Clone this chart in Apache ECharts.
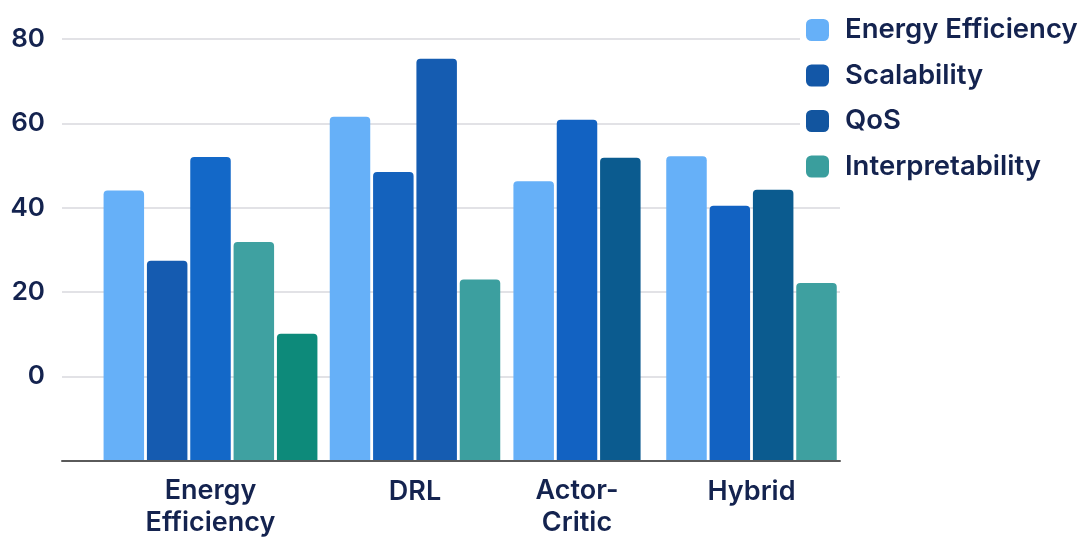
<!DOCTYPE html>
<html>
<head>
<meta charset="utf-8">
<script src="https://cdn.jsdelivr.net/npm/echarts@6/dist/echarts.min.js"></script>
<style>
  html, body { margin: 0; padding: 0; background: #fff; }
  #main { width: 1081px; height: 539px; }
</style>
</head>
<body>
<div id="main"></div>
<script>
// 分组名称
var groupNames = ['Energy\nEfficiency', 'DRL', 'Actor-\nCritic', 'Hybrid'];
// 图例名称
var legendNames = ['Energy Efficiency', 'Scalability', 'QoS', 'Interpretability'];
var barNames = ['Energy Efficiency', 'Scalability', 'QoS', 'Interpretability', 'Other'];

// 各组数值
var energyEfficiencyValues = [44, 27.3, 52, 31.8, 10];
var drlValues = [61.6, 48.5, 75.3, 23];
var actorCriticValues = [46.2, 60.8, 51.8];
var hybridValues = [52.2, 40.5, 44.3, 22.2];

// y轴刻度
var yTicks = [0, 20, 40, 60, 80];
var baseValue = -20; // 柱子从 -20 处开始画

var groupValues = [energyEfficiencyValues, drlValues, actorCriticValues, hybridValues];

var groupColors = [
  ['#66b0f8', '#155bb0', '#1368c8', '#3fa1a1', '#0d8a7a'],
  ['#66b0f8', '#1462bd', '#155cb1', '#3c9f9f'],
  ['#66b0f8', '#1262c2', '#0b5b8f'],
  ['#66b0f8', '#1262c2', '#0b5b8f', '#3ea0a0']
];
var legendColors = ['#66b0f8', '#1357a7', '#12559f', '#3a9e9d'];

// 每组的位置 (left, width)
var groupBoxes = [[103, 215], [329, 172], [513, 128], [666, 171]];

var textColor = '#14234f';
var fontFamily = 'Inter, "Noto Sans", sans-serif';

var myChart = echarts.init(document.getElementById('main'));

var grids = [{ left: 62, right: 241, top: 39, bottom: 78 }];
var xAxes = [{
  type: 'category',
  gridIndex: 0,
  data: [''],
  axisTick: { show: false },
  axisLabel: { show: false },
  axisLine: { lineStyle: { color: '#5a5a5a', width: 2 } },
  z: 5
}];
var yAxes = [{
  type: 'value',
  gridIndex: 0,
  min: 0,
  max: yTicks[yTicks.length - 1] - baseValue,
  interval: 20,
  axisLine: { show: false },
  axisTick: { show: false },
  splitLine: { lineStyle: { color: '#d9d9de', width: 1.5 } },
  axisLabel: {
    margin: 17,
    color: textColor,
    fontSize: 26,
    fontWeight: 600,
    fontFamily: fontFamily,
    formatter: function (v) {
      var real = v + baseValue;
      return yTicks.indexOf(real) >= 0 ? String(real) : '';
    }
  }
}];

var series = [];
groupNames.forEach(function (name, g) {
  grids.push({ left: groupBoxes[g][0], width: groupBoxes[g][1], top: 39, bottom: 78 });
  xAxes.push({
    type: 'category',
    gridIndex: g + 1,
    data: [name],
    axisLine: { show: false },
    axisTick: { show: false },
    axisLabel: {
      margin: 15,
      color: textColor,
      fontSize: 27,
      fontWeight: 600,
      lineHeight: 32,
      fontFamily: fontFamily
    }
  });
  yAxes.push({
    type: 'value',
    gridIndex: g + 1,
    min: 0,
    max: yTicks[yTicks.length - 1] - baseValue,
    show: false
  });
  groupValues[g].forEach(function (v, i) {
    series.push({
      name: barNames[i],
      type: 'bar',
      xAxisIndex: g + 1,
      yAxisIndex: g + 1,
      barWidth: 40.5,
      barGap: '7%',
      itemStyle: { color: groupColors[g][i], borderRadius: [4, 4, 0, 0] },
      data: [v - baseValue]
    });
  });
});

var option = {
  backgroundColor: '#fff',
  animation: false,
  legend: {
    orient: 'vertical',
    left: 800,
    top: 10,
    padding: [6, 6, 6, 6],
    backgroundColor: '#fff',
    itemWidth: 23,
    itemHeight: 22,
    itemGap: 17.5,
    icon: 'roundRect',
    textStyle: {
      color: textColor,
      fontSize: 27.5,
      lineHeight: 24,
      fontWeight: 600,
      fontFamily: fontFamily,
      padding: [0, 0, 0, 11]
    },
    data: legendNames.map(function (n, i) {
      return { name: n, itemStyle: { color: legendColors[i] } };
    })
  },
  grid: grids,
  xAxis: xAxes,
  yAxis: yAxes,
  series: series
};

option && myChart.setOption(option);
</script>
</body>
</html>
